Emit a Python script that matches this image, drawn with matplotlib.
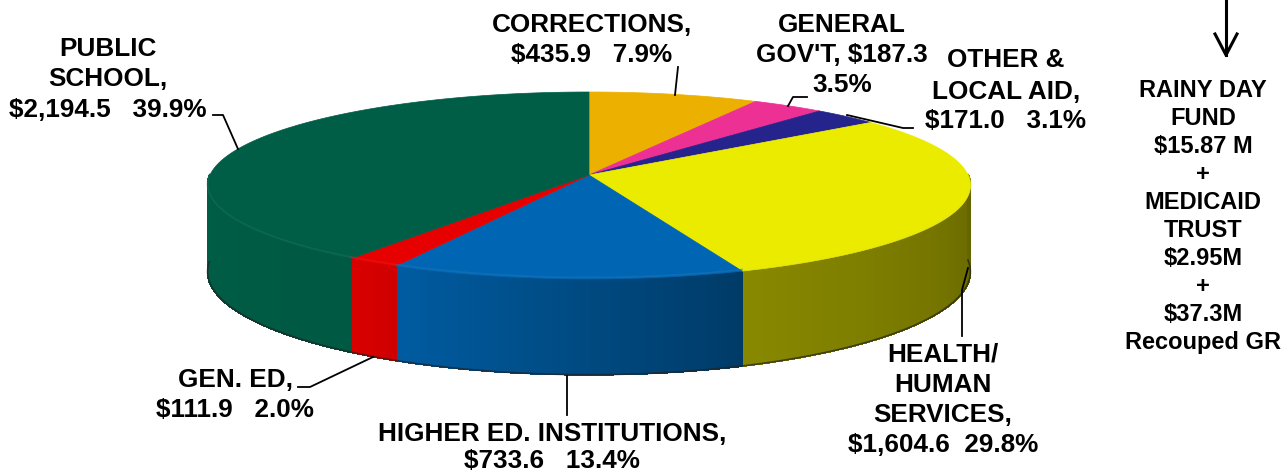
import numpy as np
import matplotlib
matplotlib.use("Agg")
import matplotlib.pyplot as plt
from matplotlib.colors import to_rgb
from matplotlib.collections import PolyCollection

# budget categories (millions), clockwise from 12 o'clock
categories = ["CORRECTIONS", "GENERAL GOV'T", "OTHER & LOCAL AID", "HEALTH/HUMAN SERVICES",
              "HIGHER ED. INSTITUTIONS", "GEN. ED", "PUBLIC SCHOOL"]
values = [435.9, 187.3, 171.0, 1604.6, 733.6, 111.9, 2194.5]
percents = [7.9, 3.5, 3.1, 29.8, 13.4, 2.0, 39.9]
colors = ["#EBB000", "#EC3094", "#25238C", "#EBEB00", "#0066B3", "#E60000", "#005E46"]

side_note = ["RAINY DAY", "FUND", "$15.87 M", "+", "MEDICAID", "TRUST", "$2.95M", "+",
             "$37.3M", "Recouped GR"]

plt.rcParams['font.family'] = ['Liberation Sans', 'DejaVu Sans']

fig = plt.figure(figsize=(12.86, 4.72), dpi=100)
ax = fig.add_axes([0, 0, 1, 1])
ax.set_xlim(0, 1286)
ax.set_ylim(472, 0)
ax.axis('off')

# pie geometry in pixels (simple perspective)
cx, cy = 589, 175
Rx, Ry = 379, 92.3
k = 0.112
depth = 85


def proj(theta_deg, d=0.0):
    t = np.radians(theta_deg)
    u, v = np.cos(t), np.sin(t)
    w = 1 + k * v
    return cx + Rx * u / w, cy - Ry * v / w + d / w


def shade(theta_deg):
    return np.interp(theta_deg, [-180, -125, -117, -69, 0], [1.0, 0.95, 0.9, 0.58, 0.43])


fracs = np.array(values) / sum(values)
bounds = 90 - 360 * np.concatenate([[0], np.cumsum(fracs)])

# side walls (front half only), drawn as thin strips for a gradient
polys, cols = [], []
for i, col in enumerate(colors):
    t0, t1 = bounds[i + 1], bounds[i]
    lo, hi = max(t0, -180), min(t1, 0)
    if lo >= hi:
        continue
    ts = np.linspace(lo, hi, max(int((hi - lo) * 3), 2))
    base = np.array(to_rgb(col))
    for a, b in zip(ts[:-1], ts[1:]):
        xa, ya = proj(a)
        xb, yb = proj(b)
        xa2, ya2 = proj(a, depth)
        xb2, yb2 = proj(b, depth)
        polys.append([(xa, ya), (xb, yb), (xb2, yb2), (xa2, ya2)])
        cols.append(np.clip(base * shade((a + b) / 2), 0, 1))
ax.add_collection(PolyCollection(polys, facecolors=cols, edgecolors=cols, linewidths=0.8,
                                 antialiaseds=False))

# dark bottom edge of the wall
ts = np.linspace(-180, 0, 400)
bx, by = proj(ts, depth)
ax.plot(bx, by, color='#222222', lw=1.2, alpha=0.7)
lx, ly = proj(np.array([-180.0, -180.0]), np.array([0, depth]))
ax.plot(lx, ly, color=colors[-1], lw=1.5)

# top face
for i, col in enumerate(colors):
    ts = np.linspace(bounds[i + 1], bounds[i], 200)
    px, py = proj(ts)
    ax.fill(np.r_[cx, px], np.r_[cy, py], color=col, ec=col, lw=0.5)
    # soft light rim along front edge
    front = ts[(ts > -180) & (ts < 0)]
    if len(front) > 1:
        rx_, ry_ = proj(front)
        rim = np.clip(np.array(to_rgb(col)) * 0.85 + 0.12, 0, 1)
        ax.plot(rx_, ry_ - 1.5, color=rim, lw=1.2, alpha=0.5)

# labels: lines, center x, baselines
fs = 18.8
labels = [
    (["PUBLIC", "SCHOOL,", "$2,194.5   39.9%"], 108, [56, 86, 117]),
    (["CORRECTIONS,", "$435.9   7.9%"], 592, [32, 62]),
    (["GENERAL", "GOV'T, $187.3", "3.5%"], 842, [32, 62, 92]),
    (["OTHER &", "LOCAL AID,", "$171.0   3.1%"], 1006, [67, 99, 128]),
    (["HEALTH/", "HUMAN", "SERVICES,", "$1,604.6  29.8%"], 943, [362, 392, 422, 452]),
    (["HIGHER ED. INSTITUTIONS,", "$733.6   13.4%"], 552, [441, 468]),
    (["GEN. ED,", "$111.9   2.0%"], 235, [387, 417]),
]
for lines, x, ys in labels:
    for s, y in zip(lines, ys):
        ax.text(x, y, s, ha='center', va='baseline', fontsize=fs, fontweight='bold', color='black')

# leader lines
leaders = [
    ([213, 223, 238], [115, 115, 149]),
    ([678, 675], [67, 95]),
    ([807, 793, 788], [97, 97, 106]),
    ([913, 903, 847], [128, 128, 115]),
    ([968, 962, 962], [268, 290, 336]),
    ([567, 567], [376, 415]),
    ([298, 310, 373], [387, 387, 357]),
]
for xs, ys in leaders:
    ax.plot(xs, ys, color='black', lw=1.3)

# note on right with arrow
for j, s in enumerate(side_note):
    ax.text(1203, 97 + 28 * j, s, ha='center', va='baseline', fontsize=17, fontweight='bold')
ax.plot([1226, 1226], [0, 55], color='black', lw=2.2)
ax.plot([1215, 1226, 1237], [34, 55, 34], color='black', lw=2.2)

fig.savefig("out.png", dpi=100)
